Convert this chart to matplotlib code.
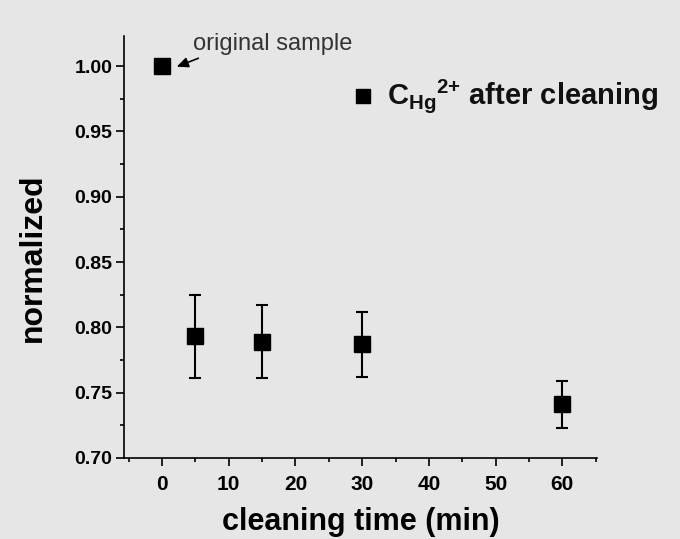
import numpy as np
import matplotlib.pyplot as plt
from matplotlib.ticker import MultipleLocator

# data
time_min = [0, 5, 15, 30, 60]
normalized = [1.000, 0.793, 0.789, 0.787, 0.741]
err = [0.0, 0.032, 0.028, 0.025, 0.018]

bg = '#e6e6e6'
plt.rcParams['font.family'] = ['Liberation Sans', 'DejaVu Sans']
plt.rcParams['mathtext.fontset'] = 'custom'
plt.rcParams['mathtext.rm'] = 'Liberation Sans'
plt.rcParams['mathtext.bf'] = 'Liberation Sans:bold'

fig = plt.figure(figsize=(6.8, 5.39), dpi=100, facecolor=bg)
ax = fig.add_axes([0.1824, 0.1503, 0.6956, 0.7829], facecolor=bg)

ax.errorbar(time_min[1:], normalized[1:], yerr=err[1:], fmt='s', color='black',
            markersize=11, elinewidth=1.5, capsize=4, capthick=1.5)
ax.plot(time_min[:1], normalized[:1], 's', color='black', markersize=11)

ax.set_xlim(-5.7, 65.2)
ax.set_ylim(0.70, 1.023)
ax.xaxis.set_major_locator(MultipleLocator(10))
ax.xaxis.set_minor_locator(MultipleLocator(5))
ax.yaxis.set_major_locator(MultipleLocator(0.05))
ax.yaxis.set_minor_locator(MultipleLocator(0.025))
ax.yaxis.set_major_formatter(plt.FormatStrFormatter('%.2f'))

for s in ['top', 'right']:
    ax.spines[s].set_visible(False)
for s in ['left', 'bottom']:
    ax.spines[s].set_linewidth(1.2)

ax.tick_params(which='major', direction='out', length=5.5, width=1.2)
ax.tick_params(which='minor', direction='out', length=3, width=1.2)
ax.tick_params(axis='y', which='major', labelsize=14, pad=3)
ax.tick_params(axis='x', which='major', labelsize=15, pad=7)
for lbl in ax.get_xticklabels() + ax.get_yticklabels():
    lbl.set_fontweight('bold')

ax.set_xlabel('cleaning time (min)', fontsize=22, fontweight='bold', labelpad=9)
ax.set_ylabel('normalized', fontsize=23, fontweight='bold', labelpad=19)
ax.yaxis.label.set_y(0.474)

# legend-like entry
ax.plot([30.1], [0.977], 's', color='black', markersize=10)
ax.text(33.7, 0.977, r'C$_{\mathbf{Hg}}$$^{\mathbf{2{+}}}$ after cleaning', fontsize=21,
        fontweight='bold', va='center', ha='left', color='#111111')

ax.annotate('original sample', xy=(2.2, 0.9995), xytext=(4.65, 1.0165),
            fontsize=17, color='#333333', ha='left', va='center',
            arrowprops=dict(arrowstyle='-|>,head_length=0.4,head_width=0.18',
                            color='black', lw=1.2,
                            shrinkA=0, shrinkB=0, relpos=(0.06, -0.05)))

fig.savefig('out.png', dpi=100, facecolor=bg)
